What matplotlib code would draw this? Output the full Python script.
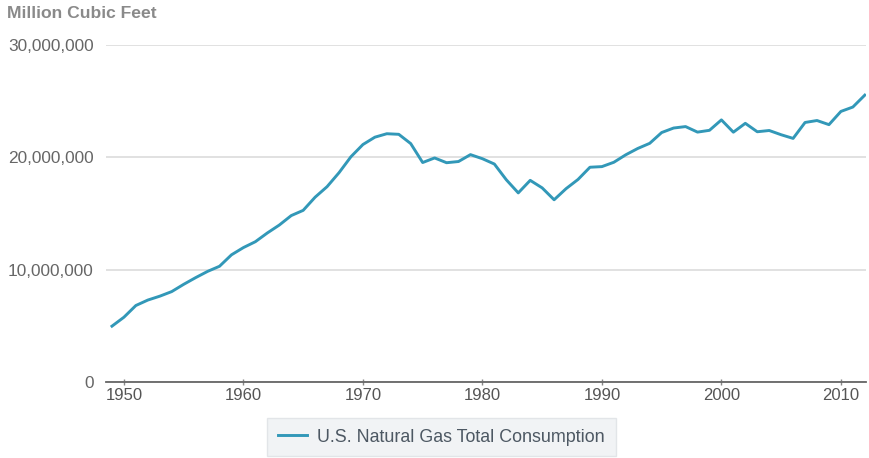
import matplotlib
matplotlib.use("Agg")
import matplotlib.pyplot as plt
from matplotlib.ticker import FuncFormatter

years = list(range(1949, 2013))
consumption = [
    4971152, 5766542, 6810162, 7294320, 7639270, 8048511, 8693657, 9288865,
    9846139, 10302847, 11321181, 11966537, 12489268, 13266513, 13970229,
    14813808, 15279716, 16452403, 17388360, 18632181, 20056240, 21139386,
    21793454, 22101452, 22049363, 21223133, 19537593, 19946496, 19520581,
    19627478, 20240761, 19877293, 19403895, 18001055, 16834912, 17950528,
    17280906, 16221296, 17210809, 18030420, 19118802, 19174000, 19562000,
    20228000, 20790000, 21247000, 22207000, 22609000, 22737000, 22246000,
    22405000, 23333000, 22239000, 23027000, 22277000, 22389000, 22011000,
    21685000, 23104000, 23277000, 22910000, 24087000, 24477000, 25538000,
]
yticks = [0, 10000000, 20000000, 30000000]
xticks = [1950, 1960, 1970, 1980, 1990, 2000, 2010]
series_name = "U.S. Natural Gas Total Consumption"
y_title = "Million Cubic Feet"

plt.rcParams['font.family'] = ['Liberation Sans', 'DejaVu Sans']

W, H = 869, 458
fig = plt.figure(figsize=(W / 100, H / 100), dpi=100)
ax = fig.add_axes([106 / W, 1 - 382 / H, (866 - 106) / W, (382 - 45) / H])

line, = ax.plot(years, consumption, color="#3298b8", lw=2.1,
                solid_joinstyle="round", label=series_name, zorder=3)

ax.set_ylim(0, 30000000)
ax.set_xlim(1948.5, 2012.1)
ax.set_yticks(yticks)
ax.set_xticks(xticks)
ax.yaxis.set_major_formatter(FuncFormatter(lambda v, p: f"{int(v):,}"))
ax.grid(axis="y", color="#dcdcdc", lw=1.2)
ax.set_axisbelow(True)
for s in ["top", "right", "left"]:
    ax.spines[s].set_visible(False)
ax.spines["bottom"].set_color("#666666")
ax.spines["bottom"].set_linewidth(1.3)
ax.tick_params(axis="y", length=0, pad=9, labelsize=12.4, labelcolor="#666666")
ax.tick_params(axis="x", length=4, width=1, color="#888888", pad=2,
               labelsize=12, labelcolor="#555555", direction="inout")

fig.text(7 / W, 1 - 14 / H, y_title, ha="left", va="center",
         fontsize=12.6, fontweight="bold", color="#8a8a8a")

leg = fig.legend(handles=[line], loc="center",
                 bbox_to_anchor=(441.5 / W, 1 - 437 / H),
                 frameon=True, fancybox=False, fontsize=12.9,
                 handlelength=1.6, handletextpad=0.6, borderpad=0.6,
                 borderaxespad=0, labelcolor="#4d5863")
fr = leg.get_frame()
fr.set_facecolor("#eef0f3")
fr.set_edgecolor("#dde0e4")
fr.set_linewidth(1)
leg.set_in_layout(False)

fig.savefig("out.png", dpi=100, facecolor="white")
